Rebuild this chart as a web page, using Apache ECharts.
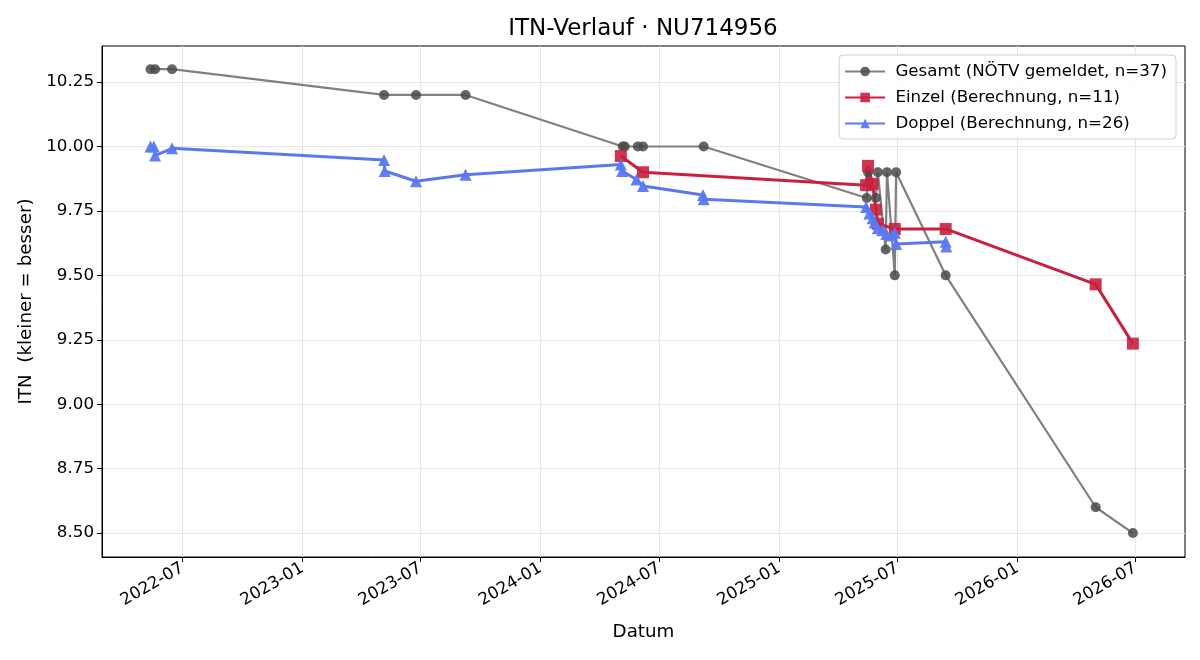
<!DOCTYPE html>
<html>
<head>
<meta charset="utf-8">
<title>ITN-Verlauf</title>
<script src="https://cdn.jsdelivr.net/npm/echarts@6/dist/echarts.min.js"></script>
<style>
    html, body { margin: 0; padding: 0; background: #fff; }
    #chart { width: 1200px; height: 660px; }
</style>
</head>
<body>
<div id="chart"></div>
<script>
// Gesamt (NÖTV gemeldet)
const gesamtDates = [
    '2022-05-13', '2022-05-20', '2022-06-15',
    '2023-05-06', '2023-06-24', '2023-09-08',
    '2024-05-06', '2024-05-09', '2024-05-29', '2024-06-06', '2024-09-07',
    '2025-05-15', '2025-05-17', '2025-05-29', '2025-06-01', '2025-06-13',
    '2025-06-15', '2025-06-27', '2025-06-29', '2025-09-13',
    '2026-05-01', '2026-06-27'
];
const gesamtValues = [
    10.30, 10.30, 10.30,
    10.20, 10.20, 10.20,
    10.00, 10.00, 10.00, 10.00, 10.00,
    9.80, 9.90, 9.80, 9.90, 9.60,
    9.90, 9.50, 9.90, 9.50,
    8.60, 8.50
];

// Einzel (Berechnung)
const einzelDates = [
    '2024-05-03', '2024-06-06',
    '2025-05-14', '2025-05-17', '2025-05-24', '2025-05-29', '2025-06-01',
    '2025-06-27', '2025-09-13',
    '2026-05-01', '2026-06-27'
];
const einzelValues = [
    9.963, 9.900,
    9.850, 9.925, 9.855, 9.755, 9.700,
    9.680, 9.680,
    9.465, 9.235
];

// Doppel (Berechnung)
const doppelDates = [
    '2022-05-13', '2022-05-18', '2022-05-20', '2022-06-15',
    '2023-05-06', '2023-05-07', '2023-06-24', '2023-09-08',
    '2024-05-03', '2024-05-05', '2024-05-27', '2024-06-06', '2024-09-06', '2024-09-07',
    '2025-05-14', '2025-05-19', '2025-05-24', '2025-05-27', '2025-06-01', '2025-06-08',
    '2025-06-14', '2025-06-22', '2025-06-27', '2025-06-29', '2025-09-13', '2025-09-14'
];
const doppelValues = [
    10.00, 10.00, 9.965, 9.993,
    9.948, 9.905, 9.865, 9.890,
    9.930, 9.905, 9.872, 9.847, 9.812, 9.795,
    9.765, 9.740, 9.722, 9.705, 9.683, 9.675,
    9.660, 9.655, 9.665, 9.622, 9.630, 9.612
];

const xTickLabels = ['2022-07', '2023-01', '2023-07', '2024-01', '2024-07', '2025-01', '2025-07', '2026-01', '2026-07'];
const yTickValues = [8.50, 8.75, 9.00, 9.25, 9.50, 9.75, 10.00, 10.25];

const FONT = "'DejaVu Sans', sans-serif";
const DAY = 86400000;

function toTime(s) {
    const p = s.split('-').map(Number);
    return Date.UTC(p[0], p[1] - 1, p[2] || 1);
}

function pad2(n) { return (n < 10 ? '0' : '') + n; }

function monthLabel(v) {
    const d = new Date(v);
    return d.getUTCFullYear() + '-' + pad2(d.getUTCMonth() + 1);
}

function pairs(dates, values) {
    return dates.map(function(d, i) { return [toTime(d), values[i]]; });
}

const xTicks = xTickLabels.map(toTime);
// sichtbarer Bereich wie im Original (ca. Ende Feb 2022 bis Mitte Sep 2026)
const xMin = toTime('2022-07-01') - 123.4 * DAY;
const xMax = toTime('2026-07-01') + 75.9 * DAY;

const chart = echarts.init(document.getElementById('chart'));

const option = {
    animation: false,
    backgroundColor: '#fff',
    textStyle: { fontFamily: FONT },
    title: {
        text: 'ITN-Verlauf · NU714956',
        left: 643,
        top: 18,
        padding: 0,
        textAlign: 'center',
        textStyle: { fontFamily: FONT, fontSize: 23, fontWeight: 'normal', color: '#000' }
    },
    legend: {
        orient: 'vertical',
        right: 24,
        top: 55,
        padding: [8, 9, 7, 5],
        itemGap: 9,
        itemWidth: 40,
        itemHeight: 12,
        backgroundColor: 'rgba(255,255,255,0.85)',
        borderColor: '#d0d0d0',
        borderWidth: 1,
        borderRadius: 4,
        formatter: function(name) { return ' ' + name; },
        textStyle: { fontFamily: FONT, fontSize: 16.7, color: '#000' }
    },
    grid: {
        left: 102,
        right: 15,
        top: 46,
        bottom: 103,
        show: true,
        borderColor: '#000',
        borderWidth: 1
    },
    xAxis: {
        type: 'value',
        min: xMin,
        max: xMax,
        name: 'Datum',
        nameLocation: 'middle',
        nameGap: 66,
        nameTextStyle: { fontFamily: FONT, fontSize: 18.3, color: '#000' },
        axisLine: { show: true, lineStyle: { color: '#000', width: 1 } },
        axisTick: { show: true, length: 5, customValues: xTicks, lineStyle: { color: '#000' } },
        axisLabel: {
            customValues: xTicks,
            rotate: 30,
            margin: 10,
            fontFamily: FONT,
            fontSize: 16.7,
            color: '#000',
            formatter: monthLabel
        },
        splitLine: { show: true, lineStyle: { color: '#e6e6e6', width: 1 } }
    },
    yAxis: {
        type: 'value',
        min: 8.407,
        max: 10.39,
        name: 'ITN  (kleiner = besser)',
        nameLocation: 'middle',
        nameGap: 66,
        nameTextStyle: { fontFamily: FONT, fontSize: 18.3, color: '#000' },
        axisLine: { show: true, lineStyle: { color: '#000', width: 1 } },
        axisTick: { show: true, length: 5, customValues: yTickValues, lineStyle: { color: '#000' } },
        axisLabel: {
            customValues: yTickValues,
            margin: 8,
            fontFamily: FONT,
            fontSize: 16.7,
            color: '#000',
            formatter: function(v) { return v.toFixed(2); }
        },
        splitLine: { show: true, lineStyle: { color: '#e6e6e6', width: 1 } }
    },
    series: [
        {
            name: 'Gesamt (NÖTV gemeldet, n=37)',
            type: 'line',
            data: pairs(gesamtDates, gesamtValues),
            symbol: 'circle',
            symbolSize: 10,
            lineStyle: { color: '#808080', width: 2.2 },
            itemStyle: { color: '#4a4a4a', opacity: 0.85 }
        },
        {
            name: 'Einzel (Berechnung, n=11)',
            type: 'line',
            data: pairs(einzelDates, einzelValues),
            symbol: 'rect',
            symbolSize: 12,
            lineStyle: { color: '#c8203e', width: 3 },
            itemStyle: { color: '#c8203e', opacity: 0.9 }
        },
        {
            name: 'Doppel (Berechnung, n=26)',
            type: 'line',
            data: pairs(doppelDates, doppelValues),
            symbol: 'triangle',
            symbolSize: 12,
            lineStyle: { color: '#5a79f0', width: 3 },
            itemStyle: { color: '#5a79f0', opacity: 0.95 }
        }
    ]
};

chart.setOption(option);
</script>
</body>
</html>
